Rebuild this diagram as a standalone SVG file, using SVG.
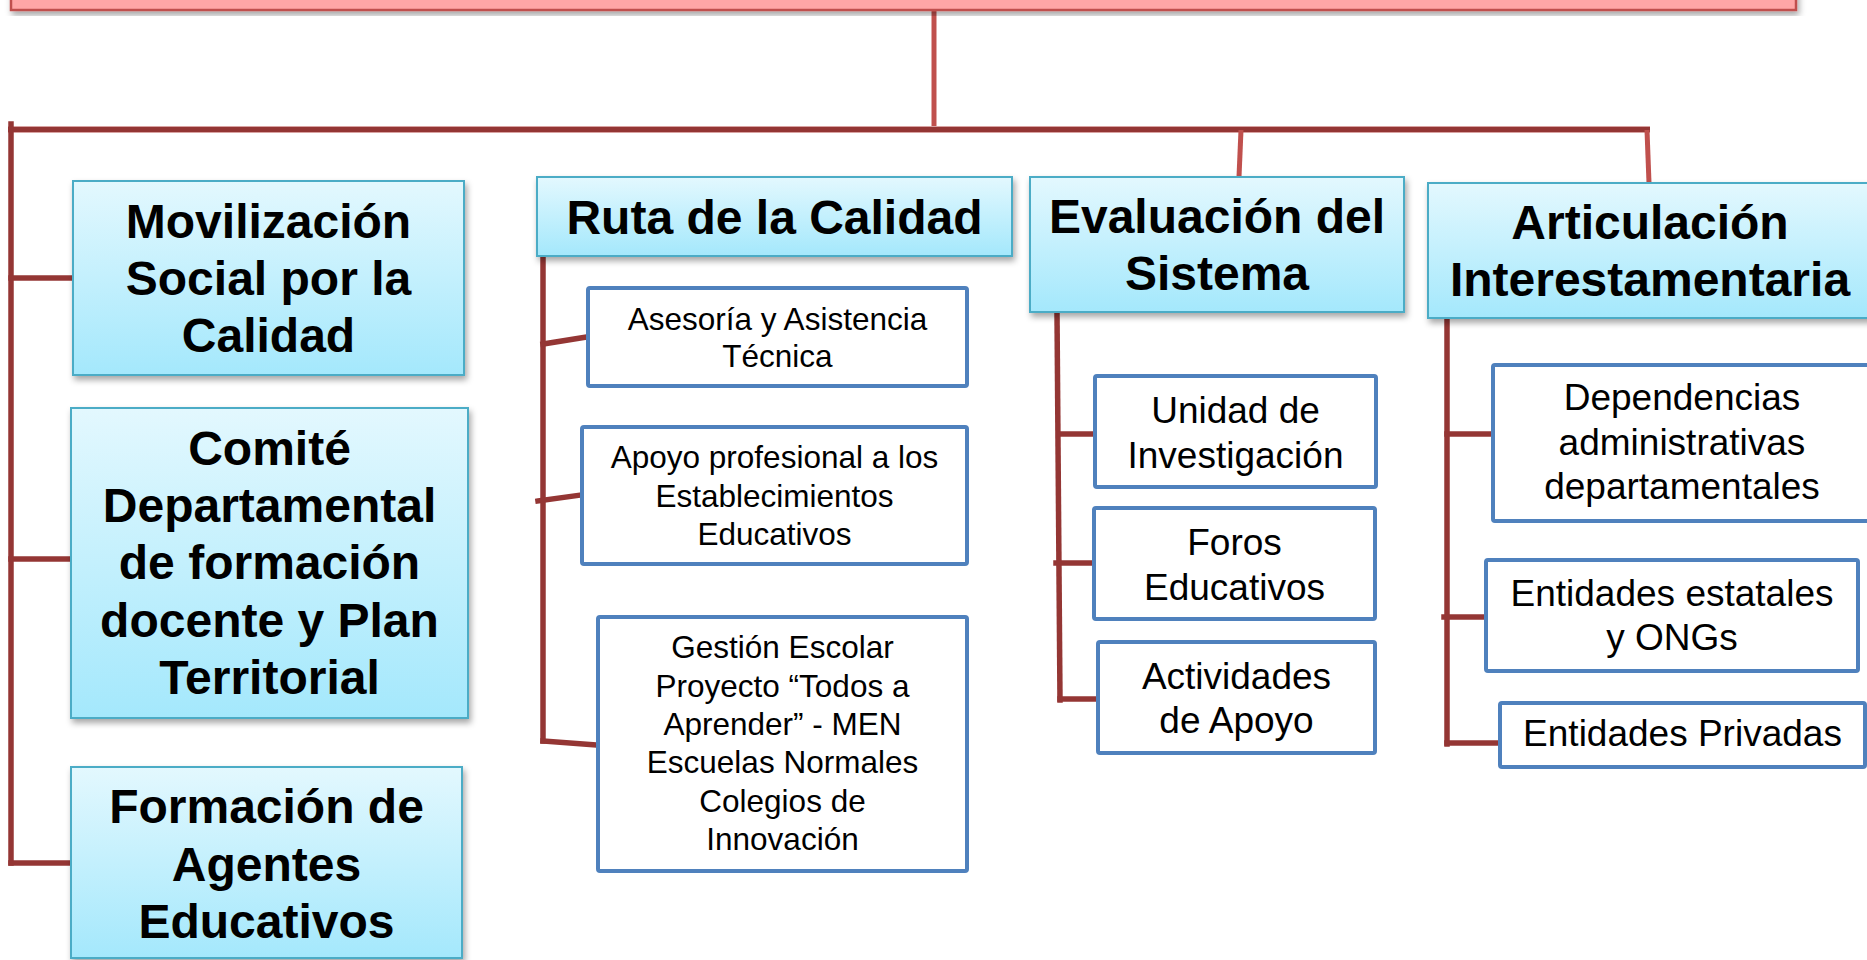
<svg xmlns="http://www.w3.org/2000/svg" width="1867" height="960" viewBox="0 0 1867 960">
<defs>
<linearGradient id="hdr" x1="0" y1="0" x2="0" y2="1">
<stop offset="0" stop-color="#E3F8FE"/>
<stop offset="1" stop-color="#A4E8FC"/>
</linearGradient>
<filter id="sh" x="-5%" y="-10%" width="115%" height="130%">
<feDropShadow dx="2" dy="4" stdDeviation="3" flood-color="#000" flood-opacity="0.35"/>
</filter>
<style>
.root{fill:#FFA6A6;stroke:#C0504D;stroke-width:2.5;filter:url(#sh)}
.hdr{fill:url(#hdr);stroke:#4BACC6;stroke-width:2;filter:url(#sh)}
.box{fill:#FFFFFF;stroke:#4F81BD;stroke-width:4}
.ht{font-family:"Liberation Sans",Arial,sans-serif;font-weight:bold;font-size:48px;fill:#000;text-anchor:middle}
.st{font-family:"Liberation Sans",Arial,sans-serif;font-size:31.5px;fill:#000;text-anchor:middle}
.mt{font-family:"Liberation Sans",Arial,sans-serif;font-size:37px;fill:#000;text-anchor:middle}
.dk{stroke:#943634;stroke-width:5.5;fill:none;stroke-linecap:square}
.bar{stroke:#943634;stroke-width:5;fill:none}
.lt{stroke:#C0504D;stroke-width:5;fill:none}
</style>
</defs>
<rect width="1867" height="960" fill="#FFFFFF"/>

<g id="connectors">
<line class="lt" x1="934" y1="10" x2="934" y2="129"/>
<line x1="8" y1="129.5" x2="1650" y2="129.5" stroke="#D9A3A2" stroke-width="7"/>
<line class="bar" x1="8" y1="129.5" x2="1650" y2="129.5"/>
<line class="lt" x1="1241" y1="130" x2="1239" y2="177"/>
<line class="lt" x1="1647" y1="130" x2="1649" y2="183"/>
<line class="dk" x1="11" y1="124" x2="11" y2="863"/>
<line class="dk" x1="11" y1="278" x2="72" y2="278"/>
<line class="dk" x1="11" y1="559" x2="70" y2="559"/>
<line class="dk" x1="11" y1="863" x2="72" y2="863"/>
<line class="dk" x1="543" y1="257" x2="543" y2="741"/>
<line class="dk" x1="543" y1="344" x2="587" y2="337"/>
<line class="dk" x1="538" y1="501" x2="581" y2="495"/>
<line class="dk" x1="543" y1="741" x2="597" y2="745"/>
<line class="dk" x1="1057" y1="313" x2="1060" y2="700"/>
<line class="dk" x1="1060" y1="434" x2="1094" y2="434"/>
<line class="dk" x1="1056" y1="563" x2="1093" y2="563"/>
<line class="dk" x1="1060" y1="699" x2="1097" y2="699"/>
<line class="dk" x1="1447" y1="319" x2="1447" y2="744"/>
<line class="dk" x1="1447" y1="434" x2="1492" y2="434"/>
<line class="dk" x1="1444" y1="617" x2="1485" y2="617"/>
<line class="dk" x1="1447" y1="743" x2="1499" y2="743"/>
</g>

<g id="root">
<rect class="root" x="11" y="-20" width="1785" height="30"/>
</g>

<g id="movilizacion">
<rect class="hdr" x="73" y="181" width="391" height="194"/>
<text class="ht" x="268.5" y="238">Movilización</text>
<text class="ht" x="268.5" y="295">Social por la</text>
<text class="ht" x="268.5" y="352">Calidad</text>
</g>

<g id="comite">
<rect class="hdr" x="71" y="408" width="397" height="310"/>
<text class="ht" x="269.5" y="465">Comité</text>
<text class="ht" x="269.5" y="522">Departamental</text>
<text class="ht" x="269.5" y="579">de formación</text>
<text class="ht" x="269.5" y="637">docente y Plan</text>
<text class="ht" x="269.5" y="694">Territorial</text>
</g>

<g id="formacion">
<rect class="hdr" x="71" y="767" width="391" height="191"/>
<text class="ht" x="266.5" y="823">Formación de</text>
<text class="ht" x="266.5" y="881">Agentes</text>
<text class="ht" x="266.5" y="938">Educativos</text>
</g>

<g id="ruta">
<rect class="hdr" x="537" y="177" width="475" height="79"/>
<text class="ht" x="774.5" y="234">Ruta de la Calidad</text>
</g>

<g id="asesoria">
<rect class="box" x="588" y="288" width="379" height="98" rx="2"/>
<text class="st" x="777.5" y="330">Asesoría y Asistencia</text>
<text class="st" x="777.5" y="367">Técnica</text>
</g>

<g id="apoyo">
<rect class="box" x="582" y="427" width="385" height="137" rx="2"/>
<text class="st" x="774.5" y="468">Apoyo profesional a los</text>
<text class="st" x="774.5" y="507">Establecimientos</text>
<text class="st" x="774.5" y="545">Educativos</text>
</g>

<g id="gestion">
<rect class="box" x="598" y="617" width="369" height="254" rx="2"/>
<text class="st" x="782.5" y="658">Gestión Escolar</text>
<text class="st" x="782.5" y="697">Proyecto “Todos a</text>
<text class="st" x="782.5" y="735">Aprender” - MEN</text>
<text class="st" x="782.5" y="773">Escuelas Normales</text>
<text class="st" x="782.5" y="812">Colegios de</text>
<text class="st" x="782.5" y="850">Innovación</text>
</g>

<g id="evaluacion">
<rect class="hdr" x="1030" y="177" width="374" height="135"/>
<text class="ht" x="1217" y="233">Evaluación del</text>
<text class="ht" x="1217" y="290">Sistema</text>
</g>

<g id="unidad">
<rect class="box" x="1095" y="376" width="281" height="111" rx="2"/>
<text class="mt" x="1235.5" y="423">Unidad de</text>
<text class="mt" x="1235.5" y="468">Investigación</text>
</g>

<g id="foros">
<rect class="box" x="1094" y="508" width="281" height="111" rx="2"/>
<text class="mt" x="1234.5" y="555">Foros</text>
<text class="mt" x="1234.5" y="600">Educativos</text>
</g>

<g id="actividades">
<rect class="box" x="1098" y="642" width="277" height="111" rx="2"/>
<text class="mt" x="1236.5" y="689">Actividades</text>
<text class="mt" x="1236.5" y="733">de Apoyo</text>
</g>

<g id="articulacion">
<rect class="hdr" x="1428" y="183" width="444" height="135"/>
<text class="ht" x="1650" y="239">Articulación</text>
<text class="ht" x="1650" y="296">Interestamentaria</text>
</g>

<g id="dependencias">
<rect class="box" x="1493" y="365" width="378" height="156" rx="2"/>
<text class="mt" x="1682" y="410">Dependencias</text>
<text class="mt" x="1682" y="455">administrativas</text>
<text class="mt" x="1682" y="499">departamentales</text>
</g>

<g id="estatales">
<rect class="box" x="1486" y="560" width="372" height="111" rx="2"/>
<text class="mt" x="1672" y="606">Entidades estatales</text>
<text class="mt" x="1672" y="650">y ONGs</text>
</g>

<g id="privadas">
<rect class="box" x="1500" y="703" width="365" height="64" rx="2"/>
<text class="mt" x="1682.5" y="746">Entidades Privadas</text>
</g>
</svg>
